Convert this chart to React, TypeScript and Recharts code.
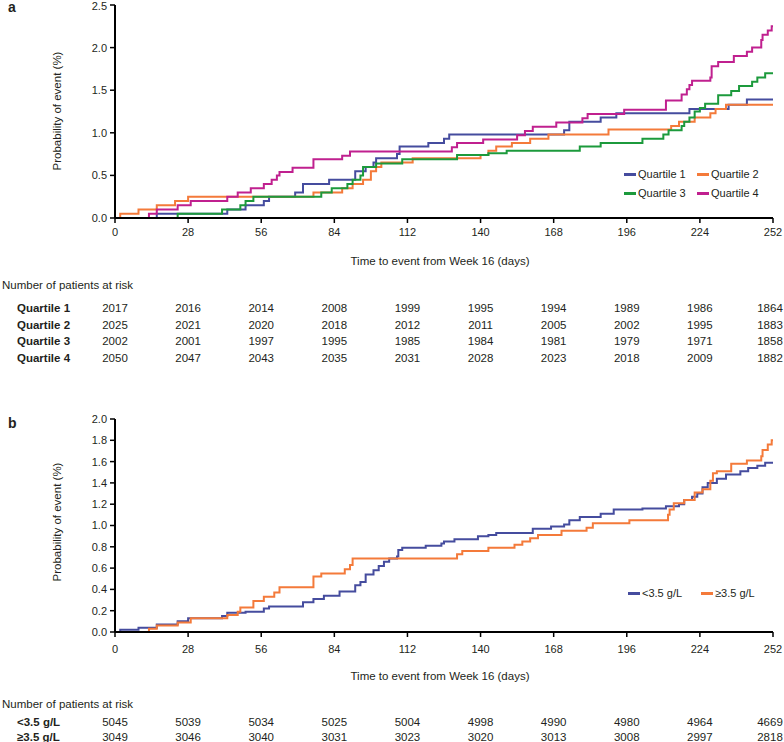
import { LineChart, Line, XAxis, YAxis } from 'recharts';

// Kaplan-Meier style step curves: [day, probability %]
const q1 = [[0, 0], [16, 0.05], [43, 0.1], [50, 0.15], [57, 0.2], [59, 0.25], [69, 0.3], [72, 0.4], [82, 0.45], [92, 0.55], [96, 0.6], [99, 0.65], [100, 0.7], [108, 0.75], [109, 0.84], [120, 0.88], [126, 0.93], [128, 0.98], [172, 1.03], [174, 1.13], [186, 1.18], [192, 1.23], [220, 1.28], [235, 1.33], [242, 1.39], [252, 1.39]];
const q2 = [[0, 0], [2, 0.05], [9, 0.1], [16, 0.15], [23, 0.2], [28, 0.25], [76, 0.3], [87, 0.35], [91, 0.4], [95, 0.45], [98, 0.55], [100, 0.6], [102, 0.65], [114, 0.7], [140, 0.74], [143, 0.79], [146, 0.84], [152, 0.88], [159, 0.93], [166, 0.98], [189, 1.04], [213, 1.08], [216, 1.13], [222, 1.18], [228, 1.23], [230, 1.28], [234, 1.33], [252, 1.33]];
const q3 = [[0, 0], [24, 0.05], [41, 0.1], [48, 0.15], [50, 0.2], [53, 0.25], [79, 0.3], [83, 0.35], [89, 0.4], [91, 0.45], [94, 0.5], [95, 0.6], [100, 0.64], [110, 0.69], [131, 0.74], [143, 0.76], [150, 0.79], [178, 0.84], [186, 0.88], [202, 0.93], [210, 0.98], [212, 1.03], [217, 1.08], [218, 1.13], [220, 1.18], [222, 1.25], [224, 1.29], [226, 1.34], [231, 1.44], [236, 1.49], [239, 1.55], [244, 1.6], [246, 1.65], [249, 1.7], [252, 1.7]];
const q4 = [[0, 0], [13, 0.05], [16, 0.1], [24, 0.15], [29, 0.2], [43, 0.25], [47, 0.3], [52, 0.35], [57, 0.4], [60, 0.45], [62, 0.5], [63, 0.54], [68, 0.59], [76, 0.69], [87, 0.73], [90, 0.78], [129, 0.83], [131, 0.88], [141, 0.92], [154, 0.97], [157, 1.02], [160, 1.07], [169, 1.12], [179, 1.17], [181, 1.22], [195, 1.27], [211, 1.38], [217, 1.45], [219, 1.51], [220, 1.56], [221, 1.61], [228, 1.65], [228.5, 1.78], [231, 1.83], [237, 1.9], [242, 1.95], [244, 2.0], [247.5, 2.09], [248, 2.15], [250, 2.2], [251.5, 2.25], [252, 2.25]];

const lowAlb = [[0, 0], [2, 0.02], [9, 0.04], [16, 0.07], [24, 0.1], [28, 0.13], [41, 0.15], [43, 0.18], [50, 0.19], [57, 0.22], [59, 0.24], [72, 0.28], [76, 0.31], [80, 0.34], [86, 0.38], [92, 0.44], [94, 0.47], [96, 0.54], [99, 0.58], [101, 0.62], [103, 0.66], [105, 0.69], [108, 0.71], [108.5, 0.77], [110, 0.79], [119, 0.81], [125, 0.83], [126, 0.85], [130, 0.87], [139, 0.9], [143, 0.91], [146, 0.93], [160, 0.97], [167, 0.99], [172, 1.01], [174, 1.05], [178, 1.08], [186, 1.11], [191, 1.15], [202, 1.16], [211, 1.18], [216, 1.2], [218, 1.24], [221, 1.27], [223, 1.3], [225, 1.36], [227, 1.4], [230.5, 1.44], [234, 1.48], [239.5, 1.51], [242.5, 1.54], [246, 1.56], [249, 1.59], [252, 1.59]];
const highAlb = [[0, 0], [13, 0.03], [16, 0.06], [24, 0.09], [29, 0.13], [43, 0.16], [47, 0.19], [48, 0.23], [53, 0.29], [57, 0.33], [61, 0.37], [63, 0.42], [76, 0.52], [79, 0.55], [88, 0.59], [90, 0.63], [91, 0.69], [131, 0.73], [133, 0.76], [143, 0.79], [153, 0.82], [156, 0.85], [159, 0.88], [162, 0.91], [171, 0.95], [180.6, 0.98], [183, 1.02], [197, 1.05], [211.8, 1.1], [212.4, 1.15], [214, 1.21], [218, 1.24], [222, 1.31], [225, 1.34], [228, 1.42], [229, 1.49], [230.5, 1.51], [236, 1.58], [242, 1.61], [247.5, 1.65], [248, 1.71], [250, 1.76], [251.5, 1.8], [252, 1.8]];

const dayTicks = [0, 28, 56, 84, 112, 140, 168, 196, 224, 252];
const ticksA = [0, 0.5, 1.0, 1.5, 2.0, 2.5];
const ticksB = [0, 0.2, 0.4, 0.6, 0.8, 1.0, 1.2, 1.4, 1.6, 1.8, 2.0];

const quartileNames = ['Quartile 1', 'Quartile 2', 'Quartile 3', 'Quartile 4'];
const riskQ1 = [2017, 2016, 2014, 2008, 1999, 1995, 1994, 1989, 1986, 1864];
const riskQ2 = [2025, 2021, 2020, 2018, 2012, 2011, 2005, 2002, 1995, 1883];
const riskQ3 = [2002, 2001, 1997, 1995, 1985, 1984, 1981, 1979, 1971, 1858];
const riskQ4 = [2050, 2047, 2043, 2035, 2031, 2028, 2023, 2018, 2009, 1882];
const albNames = ['<3.5 g/L', '≥3.5 g/L'];
const riskLow = [5045, 5039, 5034, 5025, 5004, 4998, 4990, 4980, 4964, 4669];
const riskHigh = [3049, 3046, 3040, 3031, 3023, 3020, 3013, 3008, 2997, 2818];

const BLUE = '#454c9e';
const ORANGE = '#f47a3a';
const GREEN = '#1c9a3c';
const MAGENTA = '#c0208f';
const INK = '#231f20';
const FONT = '"Liberation Sans", Arial, sans-serif';

const toRows = (pts: number[][]) => pts.map(([t, p]) => ({ t, p }));

// plot x range in page pixels, used for placing the risk-table text under the ticks
const X0 = 115;
const X1 = 773;
const colX = (d: number) => Math.min(X0 + (d / 252) * (X1 - X0), 770);

const tickStyle = { fontSize: 11, fill: INK, fontFamily: FONT };

function KMChart({ series, ticks, max, height, top, xTickGap }: any) {
  return (
    <LineChart width={784} height={height} margin={{ top, right: 11, left: 0, bottom: 0 }}>
      <XAxis
        type="number"
        dataKey="t"
        domain={[0, 252]}
        ticks={dayTicks}
        height={28}
        tick={tickStyle}
        tickSize={5}
        tickMargin={xTickGap}
        axisLine={{ stroke: '#000', strokeWidth: 2 }}
        tickLine={{ stroke: '#000', strokeWidth: 1.5 }}
        allowDuplicatedCategory={false}
      />
      <YAxis
        type="number"
        domain={[0, max]}
        ticks={ticks}
        width={115}
        tick={tickStyle}
        tickSize={5}
        tickMargin={3}
        tickFormatter={(v: number) => v.toFixed(1)}
        axisLine={{ stroke: '#000', strokeWidth: 2 }}
        tickLine={{ stroke: '#000', strokeWidth: 1.5 }}
      />
      {series.map((s: any) => (
        <Line
          key={s.name}
          data={toRows(s.pts)}
          dataKey="p"
          type="stepAfter"
          stroke={s.color}
          strokeWidth={2}
          dot={false}
          isAnimationActive={false}
        />
      ))}
    </LineChart>
  );
}

function Abs({ x, y, children, style }: any) {
  return <div style={{ position: 'absolute', left: x, top: y, fontFamily: FONT, color: INK, whiteSpace: 'nowrap', lineHeight: '14px', ...style }}>{children}</div>;
}

function LegendItem({ x, y, color, label }: any) {
  return (
    <>
      <div style={{ position: 'absolute', left: x, top: y - 1, width: 12, height: 2.5, background: color }} />
      <Abs x={x + 14} y={y - 7} style={{ fontSize: 11 }}>{label}</Abs>
    </>
  );
}

function RiskRow({ y, label, values }: any) {
  return (
    <>
      <Abs x={17} y={y - 7} style={{ fontSize: 11.5, fontWeight: 'bold' }}>{label}</Abs>
      {values.map((v: number, i: number) => (
        <Abs key={i} x={colX(dayTicks[i]) - 25} y={y - 7} style={{ fontSize: 11.5, width: 50, textAlign: 'center' }}>{v}</Abs>
      ))}
    </>
  );
}

function YTitle({ cx, cy }: any) {
  return (
    <Abs x={cx - 80} y={cy - 7} style={{ width: 160, textAlign: 'center', fontSize: 11.5, transform: 'rotate(-90deg)' }}>
      Probability of event (%)
    </Abs>
  );
}

export default function App() {
  const seriesA = [
    { name: 'Quartile 1', pts: q1, color: BLUE },
    { name: 'Quartile 2', pts: q2, color: ORANGE },
    { name: 'Quartile 3', pts: q3, color: GREEN },
    { name: 'Quartile 4', pts: q4, color: MAGENTA },
  ];
  const seriesB = [
    { name: albNames[0], pts: lowAlb, color: BLUE },
    { name: albNames[1], pts: highAlb, color: ORANGE },
  ];
  const risksA = [riskQ1, riskQ2, riskQ3, riskQ4];

  return (
    <div style={{ position: 'absolute', left: 0, top: 0, width: 784, height: 742, background: '#fff', overflow: 'hidden' }}>
      {/* panel a */}
      <div style={{ position: 'absolute', left: 0, top: 0 }}>
        <KMChart series={seriesA} ticks={ticksA} max={2.5} height={246} top={5} xTickGap={5} />
      </div>
      <Abs x={8} y={0} style={{ fontSize: 14, fontWeight: 'bold' }}>a</Abs>
      <YTitle cx={57} cy={111} />
      <Abs x={340} y={254} style={{ width: 200, textAlign: 'center', fontSize: 11.5 }}>Time to event from Week 16 (days)</Abs>
      <LegendItem x={624} y={174} color={BLUE} label="Quartile 1" />
      <LegendItem x={697} y={174} color={ORANGE} label="Quartile 2" />
      <LegendItem x={624} y={193} color={GREEN} label="Quartile 3" />
      <LegendItem x={697} y={193} color={MAGENTA} label="Quartile 4" />
      <Abs x={2} y={278} style={{ fontSize: 11.5 }}>Number of patients at risk</Abs>
      {quartileNames.map((n, i) => (
        <RiskRow key={n} y={308 + i * 16.6} label={n} values={risksA[i]} />
      ))}

      {/* panel b */}
      <div style={{ position: 'absolute', left: 0, top: 400 }}>
        <KMChart series={seriesB} ticks={ticksB} max={2.0} height={260} top={19} xTickGap={8} />
      </div>
      <Abs x={8} y={416} style={{ fontSize: 14, fontWeight: 'bold' }}>b</Abs>
      <YTitle cx={57} cy={522} />
      <Abs x={340} y={669} style={{ width: 200, textAlign: 'center', fontSize: 11.5 }}>Time to event from Week 16 (days)</Abs>
      <LegendItem x={628} y={593} color={BLUE} label={albNames[0]} />
      <LegendItem x={701} y={593} color={ORANGE} label={albNames[1]} />
      <Abs x={2} y={697} style={{ fontSize: 11.5 }}>Number of patients at risk</Abs>
      <RiskRow y={722} label={albNames[0]} values={riskLow} />
      <RiskRow y={737} label={albNames[1]} values={riskHigh} />
    </div>
  );
}
